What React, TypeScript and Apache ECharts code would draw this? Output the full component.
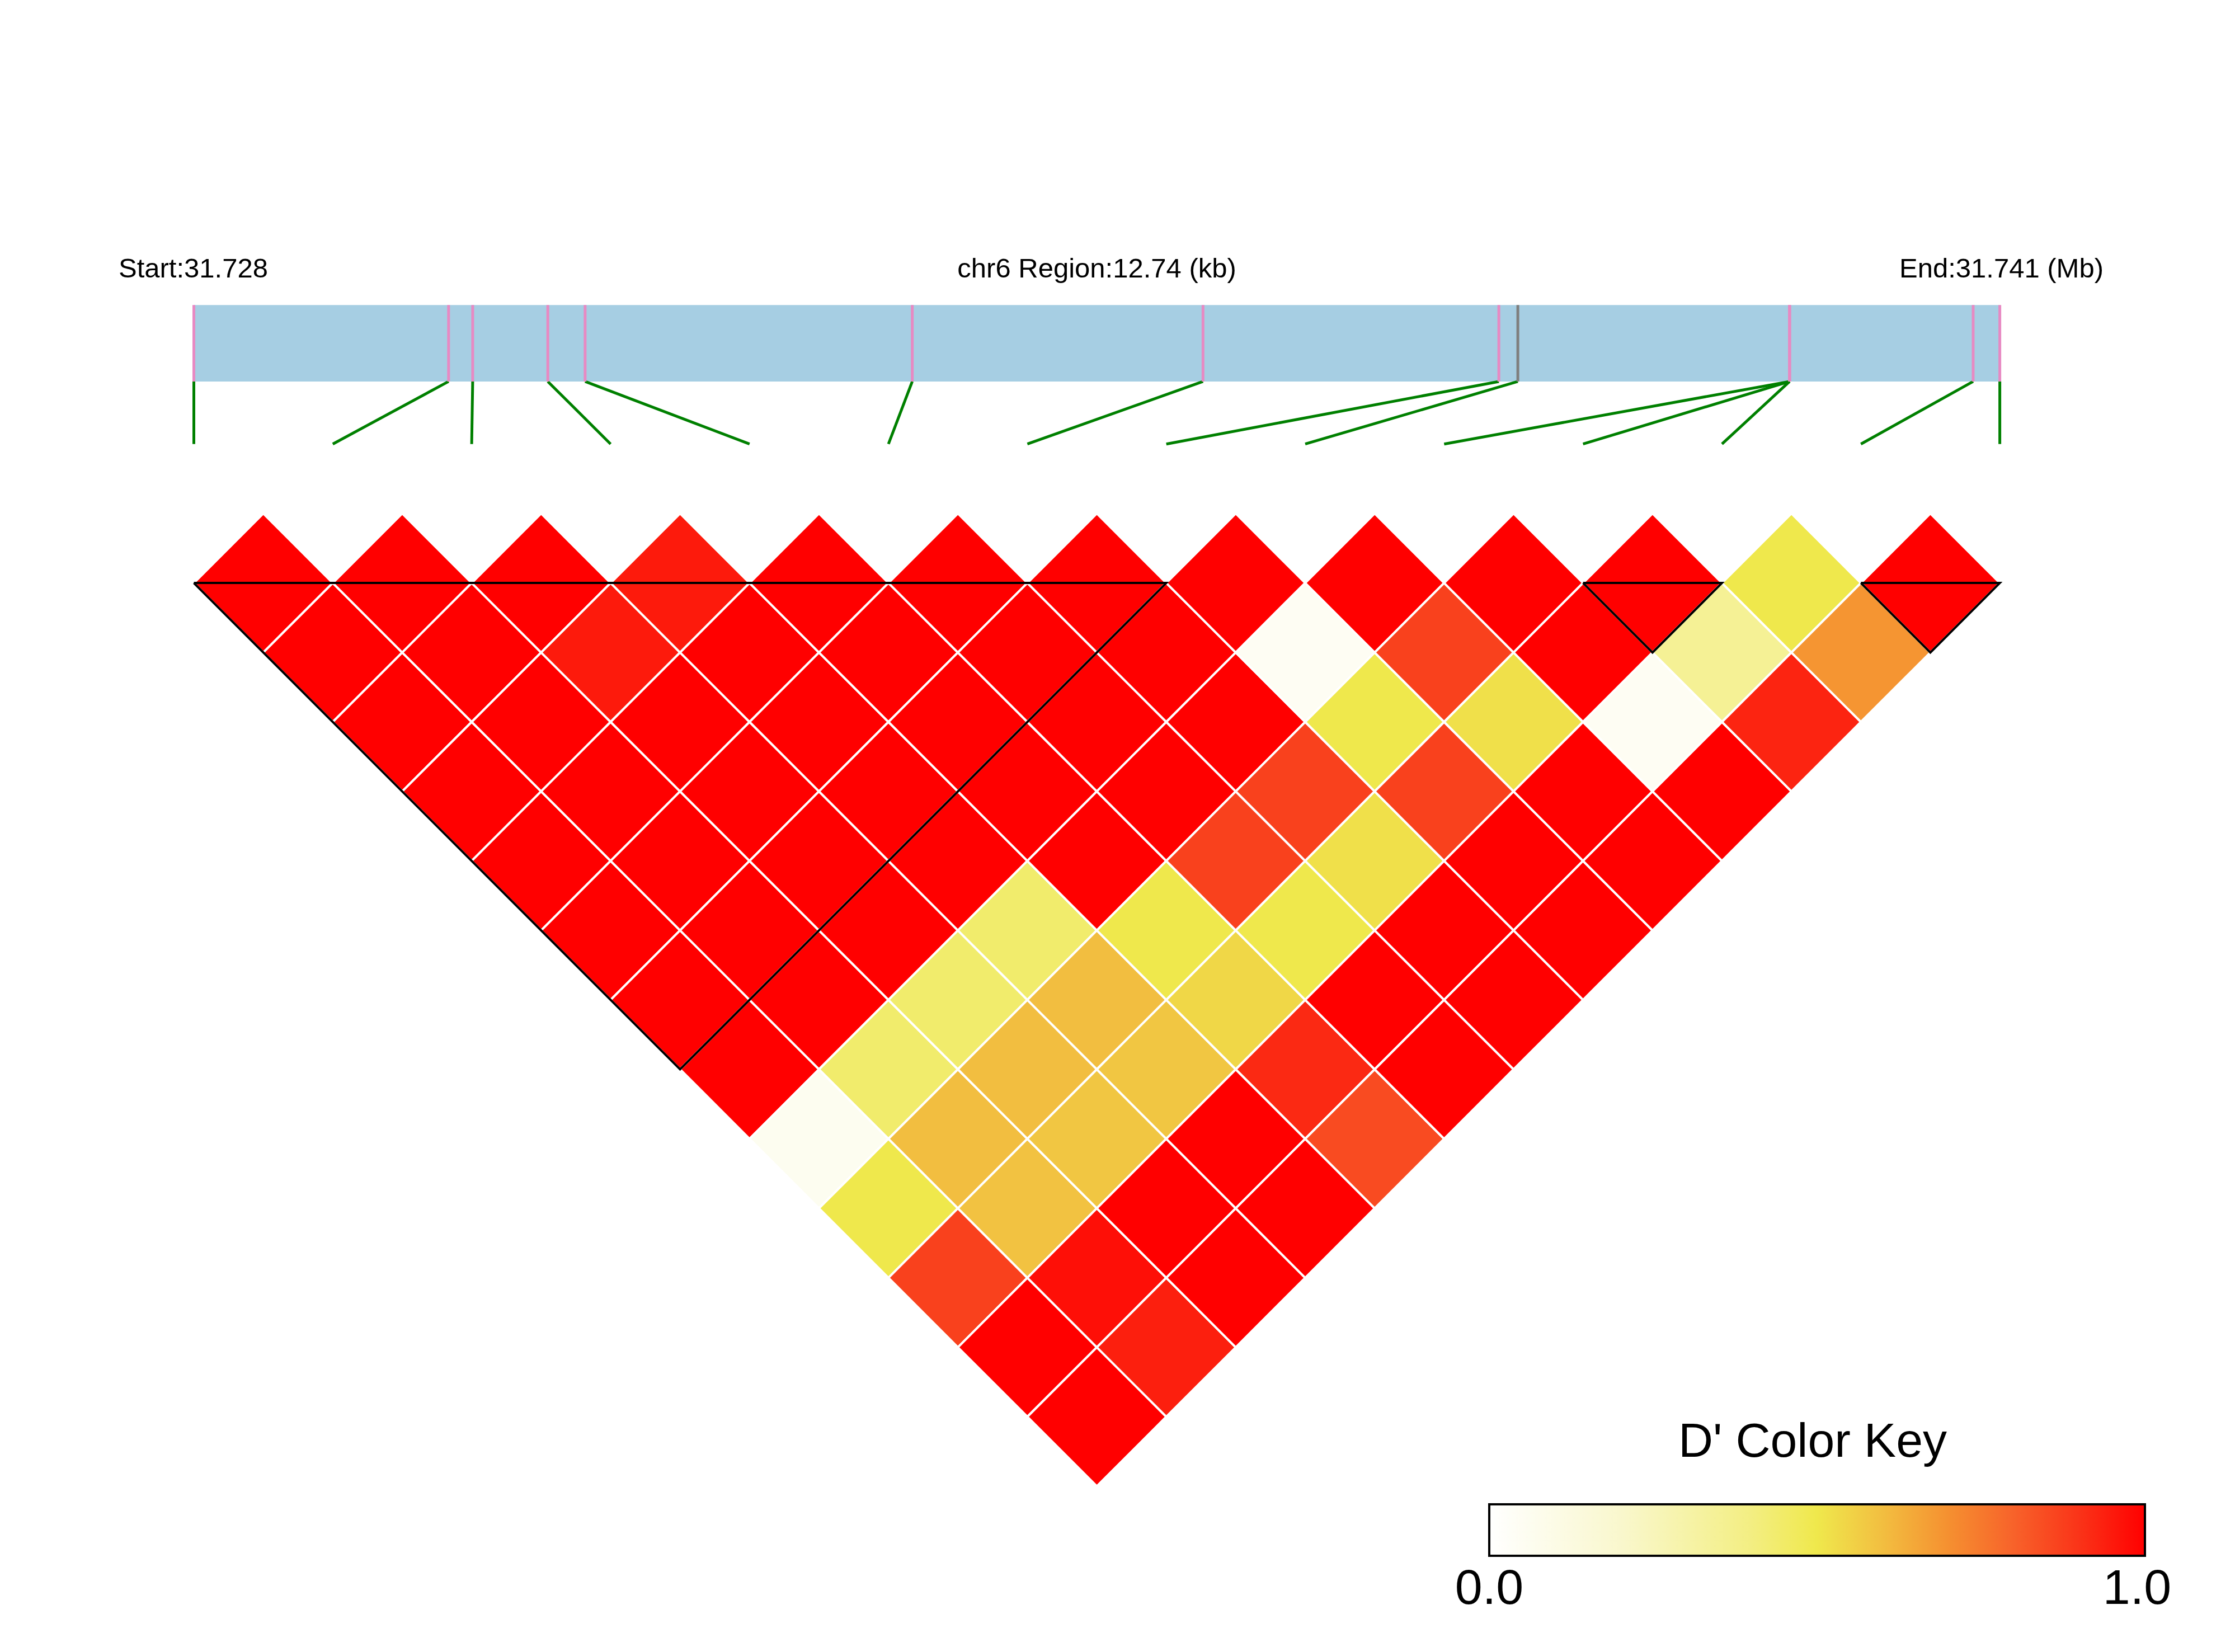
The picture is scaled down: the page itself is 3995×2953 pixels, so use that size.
import React, { useEffect, useRef } from 'react';
import * as echarts from 'echarts';

// ---- data ----
const CHROM = 'chr6';
const START_BP = 31728260;
const END_BP = 31741000;
const SNP_POSITIONS = [
  31728260, 31730057, 31730227, 31730757, 31731020, 31733328, 31735379,
  31737466, 31737600, 31739517, 31739517, 31739517, 31740812, 31741000,
];
// D' values, row i lists pairs (i, j) for j = i+1 .. 13
const D_PRIME: number[][] = [
  [1, 1, 1, 1, 1, 1, 1, 1, 0.06, 0.5, 0.87, 1, 1],
  [1, 1, 1, 1, 1, 1, 1, 0.44, 0.6, 0.59, 0.97, 0.94],
  [1, 0.95, 1, 1, 1, 1, 0.44, 0.6, 0.58, 1, 1],
  [0.95, 1, 1, 1, 1, 0.44, 0.6, 0.58, 1, 1],
  [1, 1, 1, 1, 1, 0.5, 0.54, 0.92, 0.85],
  [1, 1, 1, 1, 0.87, 0.5, 1, 1],
  [1, 1, 1, 0.87, 0.52, 1, 1],
  [1, 0.05, 0.5, 0.87, 1, 1],
  [1, 0.87, 0.52, 1, 1],
  [1, 1, 0.05, 1],
  [1, 0.35, 0.93],
  [0.5, 0.69],
  [1],
];
const LD_BLOCKS = [
  [0, 7],
  [10, 11],
  [12, 13],
];
const KEY_MIN_LABEL = '0.0';
const KEY_MAX_LABEL = '1.0';
const KEY_TITLE = "D' Color Key";

// ---- style ----
const COLOR_STOPS = [
  '#FFFFFF', '#FCFBE6', '#F9F7CD', '#F6F3A8', '#F3EE82', '#EFE84C',
  '#F2BE40', '#F59030', '#F7622A', '#FA3318', '#FF0000',
];
const FONT = '"Liberation Sans", Arial, Helvetica, sans-serif';
const GRAY_MARKS = new Set([8]);

const W = 3995;
const H = 2953;
const GRID = { left: 346.5, top: 296.9, width: 3228.1, height: 2359.8 };
const Y_MIN = -5;
const Y_MAX = 14;
const BAR_TOP = -3;
const BAR_BOTTOM = -1.9;
const LINK_BOTTOM = -1;

export default function App() {
  const ref = useRef<HTMLDivElement>(null);

  useEffect(() => {
    if (!ref.current) return;
    const chart = echarts.init(ref.current, null, { renderer: 'svg' });
    const n = SNP_POSITIONS.length;

    const ldData: number[][] = [];
    D_PRIME.forEach((row, i) => {
      row.forEach((v, k) => {
        ldData.push([i, i + 1 + k, v]);
      });
    });

    const snpData = SNP_POSITIONS.map((p, idx) => [p, idx]);

    const stops = COLOR_STOPS.map((c, k) => ({ offset: k / (COLOR_STOPS.length - 1), color: c }));

    const keyX = 2662;
    const keyW = 1172;
    const keyY = 2689;
    const keyH = 92;

    chart.setOption({
      animation: false,
      backgroundColor: '#ffffff',
      grid: { ...GRID, containLabel: false, outerBoundsMode: 'none' },
      xAxis: [
        { type: 'value', min: 0, max: n - 1, show: false },
        { type: 'value', min: START_BP, max: END_BP, show: false },
      ],
      yAxis: { type: 'value', min: Y_MIN, max: Y_MAX, inverse: true, show: false },
      visualMap: {
        type: 'continuous',
        show: false,
        min: 0,
        max: 1,
        dimension: 2,
        seriesIndex: 0,
        inRange: { color: COLOR_STOPS },
      },
      series: [
        {
          type: 'custom',
          name: 'LD',
          xAxisIndex: 0,
          data: ldData,
          renderItem: (params: any, api: any) => {
            const i = api.value(0);
            const j = api.value(1);
            const cx = (i + j) / 2;
            const d = j - i;
            const pts = [
              [cx - 0.5, d],
              [cx, d - 1],
              [cx + 0.5, d],
              [cx, d + 1],
            ].map((p) => api.coord(p));
            return {
              type: 'polygon',
              shape: { points: pts },
              style: { fill: api.visual('color'), stroke: '#ffffff', lineWidth: 4 },
            };
          },
        },
        {
          type: 'custom',
          name: 'blocks',
          xAxisIndex: 0,
          data: LD_BLOCKS,
          renderItem: (params: any, api: any) => {
            const s = api.value(0);
            const e = api.value(1);
            const pts = [
              [s, 1],
              [e, 1],
              [(s + e) / 2, 1 + (e - s)],
              [s, 1],
            ].map((p) => api.coord(p));
            return {
              type: 'polyline',
              shape: { points: pts },
              style: { fill: null, stroke: '#000000', lineWidth: 4, lineJoin: 'miter' },
            };
          },
        },
        {
          type: 'custom',
          name: 'region',
          xAxisIndex: 1,
          data: [[START_BP, END_BP]],
          renderItem: (params: any, api: any) => {
            const a = api.coord([api.value(0), BAR_TOP]);
            const b = api.coord([api.value(1), BAR_BOTTOM]);
            return {
              type: 'rect',
              shape: { x: a[0], y: a[1], width: b[0] - a[0], height: b[1] - a[1] },
              style: { fill: '#A6CEE3' },
            };
          },
        },
        {
          type: 'custom',
          name: 'links',
          xAxisIndex: 1,
          data: snpData,
          renderItem: (params: any, api: any) => {
            const pos = api.value(0);
            const idx = api.value(1);
            const cs = params.coordSys;
            const top = api.coord([pos, BAR_BOTTOM]);
            const bot = api.coord([pos, LINK_BOTTOM]);
            const tx = cs.x + (idx / (n - 1)) * cs.width;
            return {
              type: 'line',
              shape: { x1: top[0], y1: top[1], x2: tx, y2: bot[1] },
              style: { stroke: '#008000', lineWidth: 5 },
            };
          },
        },
        {
          type: 'custom',
          name: 'snps',
          xAxisIndex: 1,
          data: snpData,
          renderItem: (params: any, api: any) => {
            const pos = api.value(0);
            const idx = api.value(1);
            const a = api.coord([pos, BAR_TOP]);
            const b = api.coord([pos, BAR_BOTTOM]);
            return {
              type: 'line',
              shape: { x1: a[0], y1: a[1], x2: b[0], y2: b[1] },
              style: { stroke: GRAY_MARKS.has(idx) ? '#7F7F7F' : '#E78AC3', lineWidth: 5 },
            };
          },
        },
      ],
      graphic: [
        {
          type: 'text',
          x: 212,
          y: 479,
          style: {
            text: `Start:${(START_BP / 1e6).toFixed(3)}`,
            font: `49px ${FONT}`,
            fill: '#000',
            align: 'left',
            verticalAlign: 'middle',
          },
        },
        {
          type: 'text',
          x: GRID.left + GRID.width / 2,
          y: 479,
          style: {
            text: `${CHROM} Region:${((END_BP - START_BP) / 1000).toFixed(2)} (kb)`,
            font: `49px ${FONT}`,
            fill: '#000',
            align: 'center',
            verticalAlign: 'middle',
          },
        },
        {
          type: 'text',
          x: 3760,
          y: 479,
          style: {
            text: `End:${(END_BP / 1e6).toFixed(3)} (Mb)`,
            font: `49px ${FONT}`,
            fill: '#000',
            align: 'right',
            verticalAlign: 'middle',
          },
        },
        {
          type: 'text',
          x: keyX + keyW / 2 - 8,
          y: 2574,
          style: {
            text: KEY_TITLE,
            font: `86px ${FONT}`,
            fill: '#000',
            align: 'center',
            verticalAlign: 'middle',
          },
        },
        {
          type: 'rect',
          shape: { x: keyX, y: keyY, width: keyW, height: keyH },
          style: {
            fill: new echarts.graphic.LinearGradient(0, 0, 1, 0, stops),
            stroke: '#000',
            lineWidth: 4,
          },
        },
        {
          type: 'text',
          x: keyX,
          y: 2836,
          style: {
            text: KEY_MIN_LABEL,
            font: `88px ${FONT}`,
            fill: '#000',
            align: 'center',
            verticalAlign: 'middle',
          },
        },
        {
          type: 'text',
          x: keyX + keyW - 14,
          y: 2836,
          style: {
            text: KEY_MAX_LABEL,
            font: `88px ${FONT}`,
            fill: '#000',
            align: 'center',
            verticalAlign: 'middle',
          },
        },
      ],
    });

    return () => {
      chart.dispose();
    };
  }, []);

  return (
    <div
      ref={ref}
      style={{ position: 'fixed', left: 0, top: 0, width: W, height: H, background: '#fff' }}
    />
  );
}
